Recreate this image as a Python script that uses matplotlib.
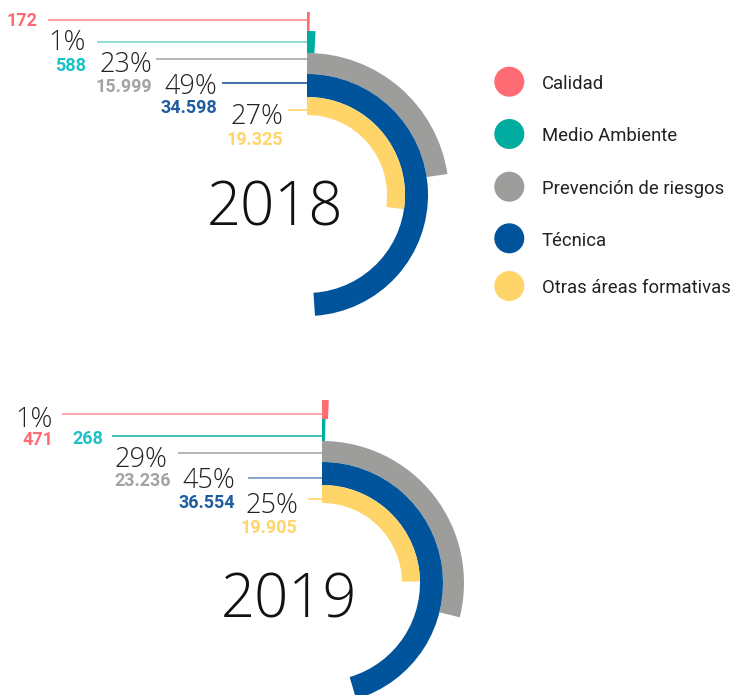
import matplotlib
matplotlib.use("Agg")
import matplotlib.pyplot as plt
from matplotlib.patches import Wedge, Circle

# ---- data -------------------------------------------------------------
categories = ["Calidad", "Medio Ambiente", "Prevención de riesgos",
              "Técnica", "Otras áreas formativas"]
years = ["2018", "2019"]
values_2018 = [172, 588, 15999, 34598, 19325]
values_2019 = [471, 268, 23236, 36554, 19905]

colors = ["#FF6B72", "#00AB9F", "#9D9D9C", "#00549B", "#FFD56A"]
value_colors = ["#FF6B72", "#1CC0C8", "#A3A3A3", "#1F5CA0", "#FFD56A"]
line_colors_2018 = ["#FF8C90", "#7ED4CE", "#A8A8A8", "#1F5A96", "#FFD56A"]
line_colors_2019 = ["#FF9A9E", "#1BB5AA", "#A8A8A8", "#7096C4", "#FFD56A"]

# ---- layout (pixel space, y down) -------------------------------------
W, H = 730, 695
ring_edges = [183, 164, 142, 121, 98, 80]   # outer -> inner, one band per category

layouts = {
    "2018": dict(center=(307, 195), year_pos=(275, 225), line_colors=line_colors_2018,
                 # (line_y, line_x0, pct_x, pct_base, val_x, val_base)
                 labels=[(20, 48, None, None, 37, 26.3),
                         (41.7, 97, 86, 50, 86, 70.7),
                         (59.3, 156, 152, 71.7, 152, 91.7),
                         (83.3, 222, 217, 94, 217, 113.3),
                         (110, 288, 283, 124, 283, 145)]),
    "2019": dict(center=(322, 583), year_pos=(289, 617), line_colors=line_colors_2019,
                 labels=[(414.3, 62, 53, 426.7, 53, 445),
                         (436, 112, None, None, 103, 444),
                         (453.3, 178, 167, 466.7, 171, 485.7),
                         (477.7, 248, 235, 488.3, 235, 508.3),
                         (499, 308, 298, 513.3, 297, 532.7)]),
}

THIN = "Open Sans"
BOLD = "Roboto"

fig = plt.figure(figsize=(W / 100, H / 100), dpi=100)
ax = fig.add_axes([0, 0, 1, 1])
ax.set_xlim(0, W)
ax.set_ylim(H, 0)
ax.axis("off")


def fmt_thousands(v):
    return f"{v:,}".replace(",", ".")


for year, values in zip(years, [values_2018, values_2019]):
    lay = layouts[year]
    cx, cy = lay["center"]
    total = sum(values)
    for i, v in enumerate(values):
        r_out, r_in = ring_edges[i], ring_edges[i + 1]
        sweep = v / total * 360.0
        # clockwise from 12 o'clock (y axis is inverted)
        ax.add_patch(Wedge((cx, cy), r_out, -90, -90 + sweep,
                           width=r_out - r_in, facecolor=colors[i],
                           edgecolor="none", lw=0))
        line_y, x0, pct_x, pct_base, val_x, val_base = lay["labels"][i]
        ax.plot([x0, cx], [line_y, line_y], color=lay["line_colors"][i],
                lw=1.2, solid_capstyle="butt")
        pct = round(v / total * 100)
        if pct >= 1 and pct_x is not None:
            ax.text(pct_x, pct_base, f"{pct}%", ha="right", va="baseline",
                    fontsize=19.5, family=THIN, weight="light", color="#222222")
        ax.text(val_x, val_base, fmt_thousands(v), ha="right", va="baseline",
                fontsize=13, family=BOLD, weight="bold", color=value_colors[i])
    yx, yb = lay["year_pos"]
    ax.text(yx, yb, year, ha="center", va="baseline", fontsize=43,
            family=THIN, weight="light", color="#111111")

# ---- legend -------------------------------------------------------------
legend_y = [81.7, 134, 186.7, 238.3, 286]
for cat, col, ly in zip(categories, colors, legend_y):
    ax.add_patch(Circle((509.3, ly), 15, facecolor=col, edgecolor="none"))
    ax.text(541.7, ly + 7.3, cat, ha="left", va="baseline", fontsize=13.3,
            family=BOLD, color="#222222")

fig.savefig("out.png", dpi=100)
